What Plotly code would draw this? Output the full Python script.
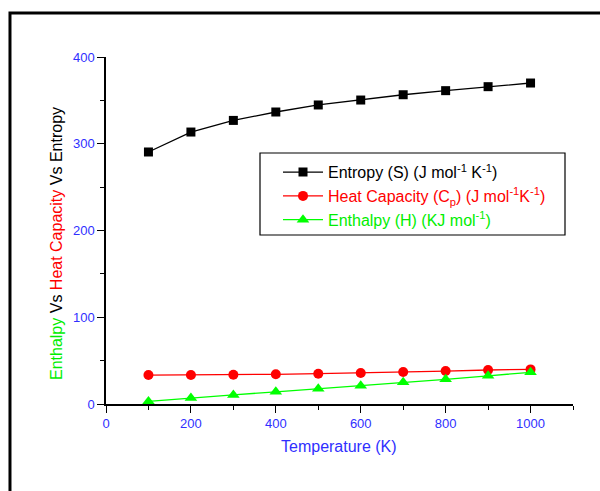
import plotly.graph_objects as go

temperature = [100, 200, 300, 400, 500, 600, 700, 800, 900, 1000]
entropy = [290.5, 313.5, 326.9, 336.6, 344.7, 350.4, 356.5, 361.2, 365.8, 370.0]
heat_capacity = [33.4, 33.4, 33.8, 34.2, 34.9, 35.7, 36.9, 38.0, 39.2, 39.9]
enthalpy = [3.0, 7.0, 10.5, 14.0, 17.5, 21.0, 25.0, 28.5, 32.5, 36.5]

names = [
    "Entropy (S) (J mol<sup>-1</sup> K<sup>-1</sup>)",
    "Heat Capacity (C<sub>p</sub>) (J mol<sup>-1</sup>K<sup>-1</sup>)",
    "Enthalpy (H) (KJ mol<sup>-1</sup>)",
]
colors = ["#000000", "#ff0000", "#00ff00"]
text_colors = ["#000000", "#ff0000", "#00ee00"]
symbols = ["square", "circle", "triangle-up"]
sizes = [9, 10, 11]

FONT = "Liberation Sans, Arial, sans-serif"
BLUE = "#2f2fff"

fig = go.Figure()
for ys, nm, c, tc, s, sz in zip([entropy, heat_capacity, enthalpy], names, colors, text_colors, symbols, sizes):
    fig.add_trace(go.Scatter(
        x=temperature, y=ys, mode="lines+markers",
        name=f'<span style="color:{tc}">{nm}</span>',
        line=dict(color=c, width=1.3),
        marker=dict(color=c, symbol=s, size=sz),
    ))

fig.update_layout(
    width=600, height=491,
    margin=dict(l=106, r=27, t=57, b=87),
    plot_bgcolor="white", paper_bgcolor="white",
    font=dict(family=FONT, size=13, color="black"),
    showlegend=True,
    legend=dict(
        x=(278 - 106) / 467, y=0.717, xanchor="left", yanchor="top",
        bgcolor="rgba(0,0,0,0)", borderwidth=0,
        font=dict(family=FONT, size=16),
        tracegroupgap=0, itemsizing="trace", itemwidth=40,
    ),
    xaxis=dict(
        range=[0, 1100], dtick=200, tick0=0,
        showgrid=False, zeroline=False,
        showline=True, linecolor="black", linewidth=1.5,
        ticks="outside", ticklen=7, tickwidth=1.3, tickcolor="black",
        tickfont=dict(color=BLUE, size=13, family=FONT),
        minor=dict(dtick=100, ticks="outside", ticklen=4, tickwidth=1.3, tickcolor="black"),
    ),
    yaxis=dict(
        range=[0, 400], dtick=100, tick0=0,
        showgrid=False, zeroline=False,
        showline=True, linecolor="black", linewidth=1.5,
        ticks="outside", ticklen=7, tickwidth=1.3, tickcolor="black",
        tickfont=dict(color=BLUE, size=13, family=FONT),
        minor=dict(dtick=50, ticks="outside", ticklen=4, tickwidth=1.3, tickcolor="black"),
    ),
)

# outer frame (left and top edges visible)
fig.add_shape(type="rect", xref="paper", yref="paper",
              x0=-0.2056, x1=1.2, y0=-0.4, y1=1.1268,
              line=dict(color="black", width=3), layer="above")
# legend box
fig.add_shape(type="rect", xref="paper", yref="paper",
              x0=(260 - 106) / 467, x1=(565 - 106) / 467,
              y0=(404 - 235) / 347, y1=(404 - 153) / 347,
              line=dict(color="black", width=1.2), fillcolor="rgba(0,0,0,0)")

fig.add_annotation(
    text="Temperature (K)", xref="paper", yref="paper",
    x=0.499, y=(404 - 446.7) / 347, xanchor="center", yanchor="middle",
    showarrow=False, font=dict(family=FONT, size=16, color=BLUE),
)
fig.add_annotation(
    text='<span style="color:#00ee00">Enthalpy</span> Vs <span style="color:#ff0000">Heat Capacity</span> Vs Entropy',
    xref="paper", yref="paper", x=(56 - 106) / 467, y=(404 - 244) / 347,
    xanchor="center", yanchor="middle", textangle=-90,
    showarrow=False, font=dict(family=FONT, size=16, color="black"),
)

fig.write_html("out.html")
